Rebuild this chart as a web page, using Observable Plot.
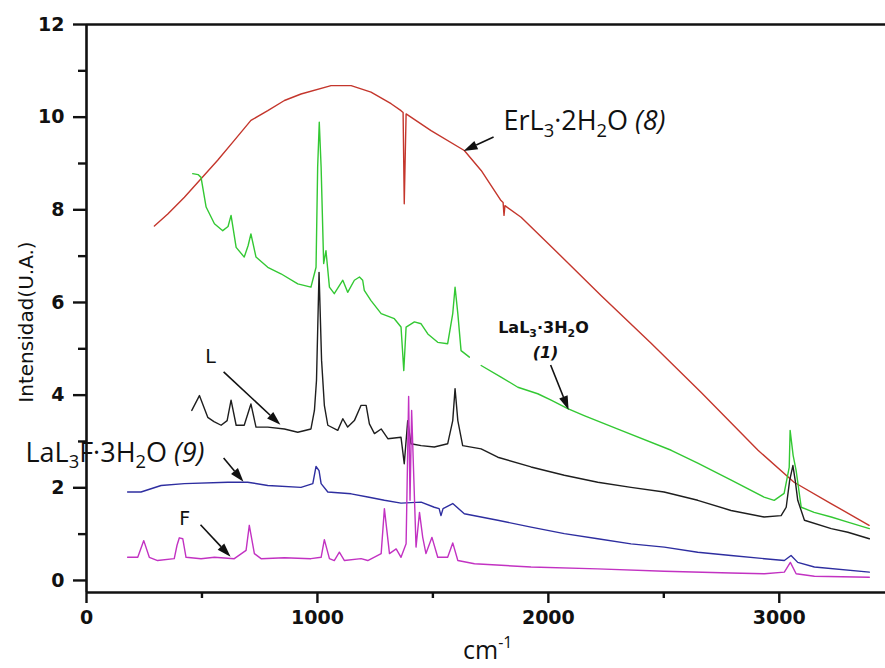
<!DOCTYPE html>
<html><head><meta charset="utf-8">
<script src="https://cdn.jsdelivr.net/npm/d3@7"></script>
<script src="https://cdn.jsdelivr.net/npm/@observablehq/plot@0.6"></script>
<style>body{margin:0;background:#fff}#chart{width:885px;height:668px}</style>
</head><body><div id="chart"></div>
<script>
// ---- data (wavenumber cm-1, intensity U.A.) ----
const erX = [294,352,424,496,568,640,712,785,857,929,1059,1146,1232,1319,1362,1371,1376,1384,1492,1636,1709,1795,1804,1808,1812,1882,2000,2228,2445,2661,2908,3064,3224,3389];
const erY = [7.65,7.91,8.27,8.67,9.07,9.50,9.93,10.14,10.36,10.50,10.68,10.68,10.54,10.29,10.14,10.10,8.13,10.07,9.71,9.28,8.85,8.20,8.16,7.88,8.09,7.84,7.27,6.15,5.12,4.06,2.81,2.12,1.66,1.19];

const laX = [460,483,496,518,554,590,613,626,648,683,700,712,734,785,842,915,972,994,1001,1008,1016,1027,1037,1052,1073,1110,1131,1160,1182,1196,1203,1232,1276,1333,1362,1374,1384,1420,1449,1478,1521,1564,1586,1596,1608,1622,1658,1680,1709,1795,1868,1954,2012,2084,2155,2315,2532,2647,2794,2934,2978,3021,3043,3047,3060,3073,3095,3151,3225,3297,3390];
const laY = [8.78,8.76,8.70,8.06,7.70,7.55,7.64,7.88,7.19,6.98,7.23,7.48,6.98,6.76,6.62,6.40,6.33,6.76,8.92,9.89,8.92,6.84,7.12,6.33,6.19,6.48,6.22,6.48,6.55,6.48,6.26,6.04,5.76,5.65,5.47,4.53,5.47,5.58,5.54,5.32,5.14,5.11,5.76,6.33,5.76,4.96,4.82,null,4.64,4.39,4.17,4.03,3.89,3.71,3.56,3.24,2.81,2.53,2.16,1.80,1.73,1.88,2.44,3.24,2.70,2.37,1.58,1.47,1.37,1.26,1.12];

const lX = [456,489,525,552,583,609,626,648,683,712,734,785,857,915,972,987,996,1007,1018,1030,1045,1088,1110,1131,1160,1189,1211,1225,1247,1276,1305,1362,1376,1391,1405,1449,1506,1564,1586,1596,1608,1629,1709,1781,1925,2069,2214,2358,2501,2647,2791,2934,3008,3030,3045,3059,3069,3080,3109,3225,3297,3390];
const lY = [3.67,3.99,3.52,3.43,3.35,3.45,3.89,3.35,3.35,3.81,3.31,3.31,3.27,3.20,3.27,3.67,4.32,6.65,4.75,3.78,3.35,3.24,3.49,3.31,3.45,3.78,3.78,3.38,3.17,3.27,3.06,3.09,2.52,3.45,2.95,2.91,2.88,2.95,3.45,4.14,3.45,2.91,2.84,2.66,2.45,2.27,2.12,2.01,1.91,1.73,1.51,1.37,1.40,1.58,2.16,2.48,2.16,1.73,1.30,1.12,1.04,0.90];

const lafX = [178,236,323,424,612,698,785,929,980,994,1007,1016,1045,1146,1218,1290,1362,1449,1506,1527,1535,1544,1586,1636,1781,1925,2069,2214,2358,2502,2647,2791,2936,3022,3051,3080,3152,3390];
const lafY = [1.91,1.91,2.05,2.09,2.12,2.12,2.05,2.01,2.09,2.46,2.37,2.09,1.91,1.87,1.80,1.73,1.67,1.69,1.58,1.55,1.40,1.55,1.66,1.44,1.30,1.15,1.01,0.90,0.79,0.72,0.61,0.54,0.47,0.43,0.54,0.39,0.29,0.18];

const fX = [178,222,248,272,308,380,392,402,417,431,496,554,640,691,705,727,756,857,972,1016,1030,1052,1073,1095,1117,1189,1218,1276,1290,1312,1341,1362,1384,1395,1401,1408,1427,1442,1456,1470,1496,1521,1564,1586,1608,1680,1925,2214,2502,2791,2936,3022,3048,3073,3152,3390];
const fY = [0.50,0.50,0.86,0.50,0.43,0.47,0.76,0.92,0.90,0.50,0.47,0.50,0.47,0.65,1.19,0.58,0.47,0.49,0.47,0.50,0.88,0.47,0.43,0.61,0.43,0.47,0.43,0.58,1.55,0.58,0.68,0.50,0.79,3.97,1.73,3.67,0.72,1.47,0.93,0.58,0.93,0.50,0.50,0.81,0.43,0.36,0.29,0.25,0.20,0.16,0.145,0.18,0.39,0.145,0.09,0.07];

const yMajor = [0,2,4,6,8,10,12];
const yMinor = [1,3,5,7,9,11];
const xMajor = [0,1000,2000,3000];
const xMinor = [500,1500,2500];

const series = [
  {x: erX, y: erY, color: "#c4362c"},
  {x: laX, y: laY, color: "#33c833"},
  {x: lX, y: lY, color: "#1e1e1e"},
  {x: lafX, y: lafY, color: "#2e2ea0"},
  {x: fX, y: fY, color: "#c232c2"}
];
const rows = s => s.x.map((x, i) => ({x, y: s.y[i]}));

const plot = Plot.plot({
  width: 885, height: 668,
  marginLeft: 86, marginRight: 0, marginTop: 24, marginBottom: 76,
  x: {domain: [0, 3460]},
  y: {domain: [-0.26, 12]},
  style: {background: "white", fontFamily: "DejaVu Sans", fontSize: "19px", fontWeight: "bold", color: "#111"},
  marks: [
    ...series.map(s => Plot.line(rows(s), {x: "x", y: "y", stroke: s.color, strokeWidth: 1.4})),
    Plot.ruleX([0], {y1: -0.26, y2: 12, strokeWidth: 2.6, stroke: "#111"}),
    Plot.ruleY([12], {strokeWidth: 2.6, stroke: "#111"}),
    Plot.ruleY([-0.26], {strokeWidth: 2.6, stroke: "#111"}),
    Plot.axisY({ticks: yMajor, tickSize: 13, tickPadding: 9, tickFormat: d => String(d), label: null, strokeWidth: 2.4, stroke: "#111"}),
    Plot.axisY({ticks: yMinor, tickSize: 8, tickFormat: () => "", label: null, strokeWidth: 2.4, stroke: "#111"}),
    Plot.axisX({ticks: xMajor, tickSize: 11, tickPadding: 7, tickFormat: d => String(d), label: null, strokeWidth: 2.4, stroke: "#111"}),
    Plot.axisX({ticks: xMinor, tickSize: 6, tickFormat: () => "", label: null, strokeWidth: 2.4, stroke: "#111"})
  ]
});
document.getElementById("chart").append(plot);

// ---- annotations (placed through the plot's own scales) ----
const sx = v => plot.scale("x").apply(v);
const sy = v => plot.scale("y").apply(v);
const svg = d3.select(plot);
const g = svg.append("g").attr("fill", "#111").style("font-weight", "normal");

function label(x, y, parts, opts) {
  const t = g.append("text").attr("x", sx(x)).attr("y", sy(y))
    .attr("font-family", opts.family).attr("font-size", opts.size)
    .attr("font-weight", opts.weight || "normal")
    .attr("text-anchor", opts.anchor || "start");
  parts.forEach(p => {
    const ts = t.append("tspan").text(p.t);
    if (p.sub) ts.attr("font-size", opts.size * 0.68).attr("dy", opts.size * 0.24);
    if (p.back) ts.attr("dy", p.back);
    if (p.it) ts.attr("font-style", "italic");
  });
  return t;
}
function arrow(x1, y1, x2, y2) {
  const a = [sx(x1), sy(y1)], b = [sx(x2), sy(y2)];
  const ang = Math.atan2(b[1] - a[1], b[0] - a[0]);
  const L = 14, W = 4.5;
  const base = [b[0] - L * Math.cos(ang), b[1] - L * Math.sin(ang)];
  g.append("line").attr("x1", a[0]).attr("y1", a[1]).attr("x2", base[0]).attr("y2", base[1])
    .attr("stroke", "#111").attr("stroke-width", 1.6);
  const p1 = [base[0] + W * Math.sin(ang), base[1] - W * Math.cos(ang)];
  const p2 = [base[0] - W * Math.sin(ang), base[1] + W * Math.cos(ang)];
  g.append("path").attr("d", `M${b}L${p1}L${p2}Z`).attr("fill", "#111");
}

const S = 27 * 0.24;
label(1808, 9.71, [{t: "ErL"}, {t: "3", sub: true}, {t: "·2H", back: -S}, {t: "2", sub: true}, {t: "O ", back: -S}, {t: "(8)", it: true}], {family: "Open Sans", size: 27});
arrow(1765, 9.56, 1635, 9.26);

const S2 = 16 * 0.24;
label(1981, 5.33, [{t: "LaL"}, {t: "3", sub: true}, {t: "·3H", back: -S2}, {t: "2", sub: true}, {t: "O", back: -S2}], {family: "DejaVu Sans", size: 16, weight: "bold", anchor: "middle"});
label(1990, 4.79, [{t: "(1)", it: true}], {family: "DejaVu Sans", size: 16, weight: "bold", anchor: "middle"});
arrow(2012, 4.64, 2090, 3.67);

label(539, 4.68, [{t: "L"}], {family: "DejaVu Sans", size: 19, anchor: "middle"});
arrow(596, 4.49, 842, 3.35);

label(-262, 2.55, [{t: "LaL"}, {t: "3", sub: true}, {t: "F·3H", back: -S}, {t: "2", sub: true}, {t: "O ", back: -S}, {t: "(9)", it: true}], {family: "Open Sans", size: 27});
arrow(596, 2.63, 682, 2.12);

label(427, 1.19, [{t: "F"}], {family: "DejaVu Sans", size: 19, anchor: "middle"});
arrow(496, 1.19, 626, 0.50);

// axis titles
svg.append("text").attr("transform", "translate(33,322) rotate(-90)")
  .attr("text-anchor", "middle").attr("font-family", "DejaVu Sans").attr("font-size", 20)
  .attr("font-weight", "normal").attr("fill", "#111").text("Intensidad(U.A.)");
const ct = svg.append("text").attr("x", 463).attr("y", 659).attr("text-anchor", "start")
  .attr("font-family", "Open Sans").attr("font-size", 25).attr("font-weight", "normal").attr("fill", "#111");
ct.append("tspan").text("cm");
ct.append("tspan").attr("font-size", 16).attr("dy", -11).text("-1");
</script></body></html>
